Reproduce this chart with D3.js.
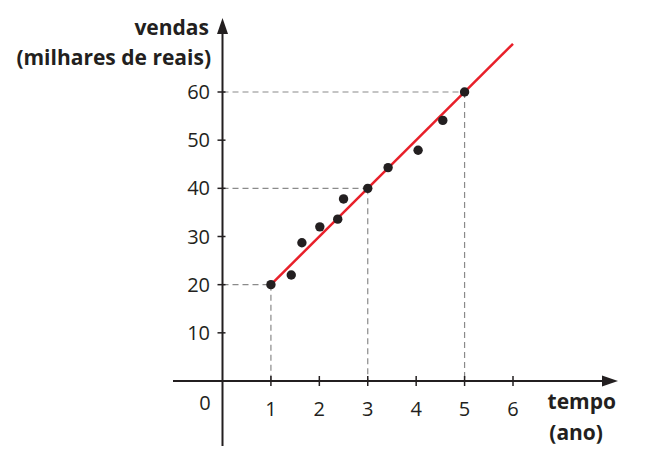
<!DOCTYPE html>
<html>
<head>
<meta charset="utf-8">
<script src="https://cdn.jsdelivr.net/npm/d3@7"></script>
<style>
  body { margin: 0; background: #fff; }
  svg text { font-family: "Open Sans", "Noto Sans", sans-serif; fill: #231f20; }
</style>
</head>
<body>
<div id="container"></div>
<script>
// data
const xTicks = [1, 2, 3, 4, 5, 6];
const yTicks = [10, 20, 30, 40, 50, 60];
const pointsX = [1, 1.42, 1.64, 2.01, 2.38, 2.5, 3, 3.42, 4.04, 4.55, 5];
const pointsY = [20, 22, 28.7, 32, 33.6, 37.8, 40, 44.3, 47.9, 54.1, 60];
const lineX = [1, 6];
const lineY = [20, 70];
const guideX = [1, 3, 5];
const guideY = [20, 40, 60];

const W = 646, H = 452;
const points = pointsX.map((x, i) => ({ x, y: pointsY[i] }));
const lineData = lineX.map((x, i) => ({ x, y: lineY[i] }));

const x = d3.scaleLinear().domain([0, 6]).range([222.5, 513]);
const y = d3.scaleLinear().domain([0, 60]).range([381, 92]);

const svg = d3.select("#container")
  .append("svg")
  .attr("width", W)
  .attr("height", H);

const ink = "#231f20";

// dashed guides
const guides = svg.append("g")
  .attr("stroke", "#8a8a8a")
  .attr("stroke-width", 1.2)
  .attr("stroke-dasharray", "6,4");

guideY.forEach((v, i) => {
  guides.append("line")
    .attr("x1", x(0)).attr("x2", x(guideX[i]))
    .attr("y1", y(v)).attr("y2", y(v));
  guides.append("line")
    .attr("x1", x(guideX[i])).attr("x2", x(guideX[i]))
    .attr("y1", y(v)).attr("y2", y(0));
});

// axes
svg.append("line")
  .attr("x1", 173).attr("x2", 606)
  .attr("y1", y(0)).attr("y2", y(0))
  .attr("stroke", ink).attr("stroke-width", 2);
svg.append("path")
  .attr("d", `M618,${y(0)} L602,${y(0) - 5.5} L602,${y(0) + 5.5} Z`)
  .attr("fill", ink);

svg.append("line")
  .attr("x1", x(0)).attr("x2", x(0))
  .attr("y1", 446).attr("y2", 30)
  .attr("stroke", ink).attr("stroke-width", 2);
svg.append("path")
  .attr("d", `M${x(0)},18 L${x(0) - 5.5},34 L${x(0) + 5.5},34 Z`)
  .attr("fill", ink);

// ticks
svg.append("g").selectAll("line")
  .data(xTicks)
  .join("line")
  .attr("x1", d => x(d)).attr("x2", d => x(d))
  .attr("y1", y(0) - 5).attr("y2", y(0) + 5)
  .attr("stroke", ink).attr("stroke-width", 1.5);

svg.append("g").selectAll("line")
  .data(yTicks)
  .join("line")
  .attr("x1", x(0) - 5).attr("x2", x(0) + 3)
  .attr("y1", d => y(d)).attr("y2", d => y(d))
  .attr("stroke", ink).attr("stroke-width", 1.5);

// tick labels
svg.append("g").selectAll("text")
  .data(xTicks)
  .join("text")
  .attr("x", d => x(d))
  .attr("y", 416)
  .attr("text-anchor", "middle")
  .style("font-size", "20px")
  .text(d => d);

svg.append("g").selectAll("text")
  .data(yTicks)
  .join("text")
  .attr("x", 210)
  .attr("y", d => y(d) + 7)
  .attr("text-anchor", "end")
  .style("font-size", "20px")
  .text(d => d);

svg.append("text")
  .attr("x", 205).attr("y", 410)
  .attr("text-anchor", "middle")
  .style("font-size", "20px")
  .text("0");

// axis titles
svg.append("text")
  .attr("x", 209).attr("y", 35)
  .attr("text-anchor", "end")
  .style("font-size", "21px").style("font-weight", "bold")
  .text("vendas");
svg.append("text")
  .attr("x", 211).attr("y", 65)
  .attr("text-anchor", "end")
  .style("font-size", "21px").style("font-weight", "bold")
  .text("(milhares de reais)");

svg.append("text")
  .attr("x", 616).attr("y", 409)
  .attr("text-anchor", "end")
  .style("font-size", "21px").style("font-weight", "bold")
  .text("tempo");
svg.append("text")
  .attr("x", 603).attr("y", 440)
  .attr("text-anchor", "end")
  .style("font-size", "21px").style("font-weight", "bold")
  .text("(ano)");

// trend line
svg.append("path")
  .datum(lineData)
  .attr("fill", "none")
  .attr("stroke", "#e8202a")
  .attr("stroke-width", 2.5)
  .attr("d", d3.line().x(d => x(d.x)).y(d => y(d.y)));

// points
svg.append("g").selectAll("circle")
  .data(points)
  .join("circle")
  .attr("cx", d => x(d.x))
  .attr("cy", d => y(d.y))
  .attr("r", 4.7)
  .attr("fill", ink);
</script>
</body>
</html>
